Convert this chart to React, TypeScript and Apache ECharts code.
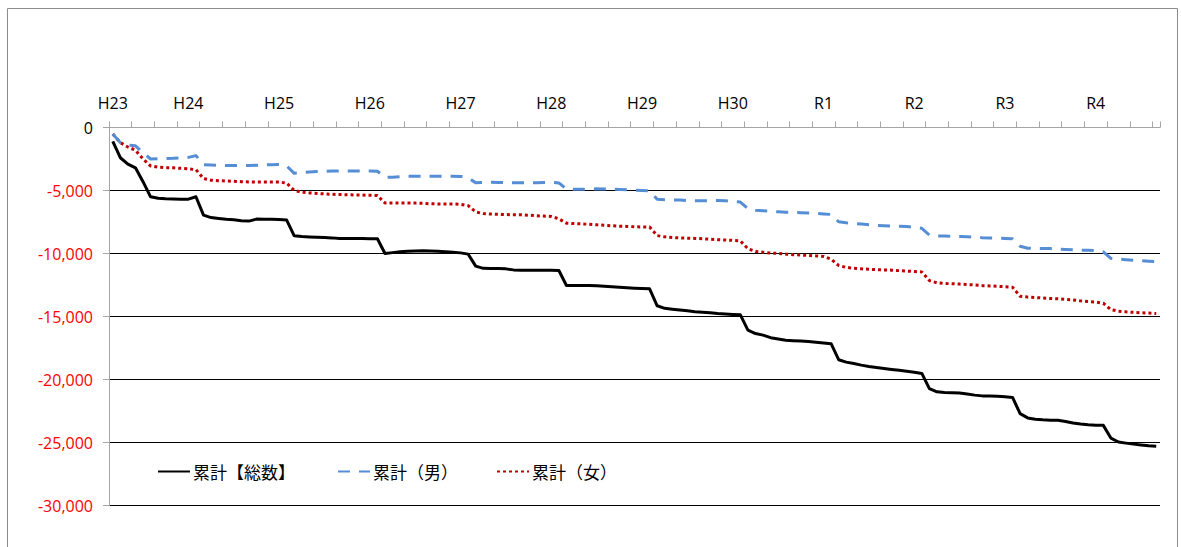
import React, { useEffect, useRef } from "react";
import * as echarts from "echarts";

// Months from 2011/3 to 2022/9 (139 points)
const startYear = 2011;
const startMonth = 3;
const monthCount = 139;
const categories: string[] = [];
for (let i = 0; i < monthCount; i++) {
  const m0 = startMonth - 1 + i;
  categories.push(`${startYear + Math.floor(m0 / 12)}/${(m0 % 12) + 1}`);
}

// Era labels shown at the first month and each January
const labelYears = [2011, 2012, 2013, 2014, 2015, 2016, 2017, 2018, 2019, 2020, 2021, 2022];
const labelTexts = ["H23", "H24", "H25", "H26", "H27", "H28", "H29", "H30", "R1", "R2", "R3", "R4"];

const yTicks = [0, -5000, -10000, -15000, -20000, -25000, -30000];

const totalSeries = [
  -1100, -2400, -2900, -3200, -4300, -5500, -5620, -5660, -5680, -5700, -5690, -5500,
  -6950, -7150, -7220, -7280, -7320, -7400, -7430, -7270, -7280, -7290, -7300, -7350,
  -8600, -8660, -8690, -8720, -8740, -8760, -8800, -8810, -8810, -8810, -8820, -8830,
  -10000, -9930, -9870, -9820, -9800, -9790, -9800, -9830, -9860, -9900, -9950, -10050,
  -11000, -11180, -11200, -11200, -11220, -11300, -11320, -11320, -11320, -11320, -11330, -11350,
  -12540, -12540, -12540, -12540, -12560, -12600, -12640, -12680, -12720, -12750, -12780, -12800,
  -14150, -14350, -14420, -14480, -14550, -14620, -14660, -14700, -14760, -14800, -14840, -14870,
  -16080, -16350, -16480, -16680, -16780, -16880, -16920, -16950, -16980, -17040, -17100, -17160,
  -18430, -18620, -18730, -18860, -18960, -19040, -19120, -19200, -19270, -19350, -19420, -19520,
  -20720, -20980, -21030, -21050, -21080, -21150, -21240, -21300, -21310, -21330, -21370, -21420,
  -22710, -23050, -23150, -23200, -23230, -23240, -23330, -23450, -23530, -23590, -23630, -23640,
  -24650, -24960, -25050, -25130, -25200, -25260, -25290,
];

const maleSeries = [
  -520, -1200, -1400, -1450, -2000, -2500, -2480, -2460, -2450, -2420, -2370, -2230,
  -2950, -2980, -3000, -3020, -3020, -3020, -3020, -3000, -2970, -2950, -2940, -3050,
  -3640, -3580, -3540, -3500, -3470, -3460, -3460, -3460, -3460, -3450, -3450, -3470,
  -3950, -3940, -3900, -3870, -3860, -3860, -3860, -3860, -3860, -3860, -3880, -4000,
  -4380, -4370, -4350, -4360, -4380, -4390, -4390, -4390, -4380, -4360, -4360, -4400,
  -4880, -4900, -4900, -4880, -4870, -4880, -4900, -4920, -4940, -4970, -5000, -5020,
  -5700, -5730, -5750, -5760, -5790, -5820, -5820, -5810, -5800, -5810, -5850, -5920,
  -6440, -6560, -6610, -6650, -6690, -6720, -6750, -6760, -6790, -6820, -6860, -6900,
  -7480, -7560, -7610, -7660, -7720, -7770, -7800, -7820, -7830, -7850, -7930, -8000,
  -8540, -8600, -8620, -8640, -8660, -8670, -8700, -8750, -8760, -8780, -8800, -8830,
  -9420, -9580, -9600, -9600, -9610, -9640, -9680, -9710, -9740, -9750, -9770, -9870,
  -10380, -10450, -10490, -10530, -10570, -10610, -10640,
];

const femaleSeries = [
  -520, -1200, -1550, -1800, -2500, -3050, -3150, -3190, -3200, -3240, -3280, -3350,
  -4050, -4180, -4220, -4250, -4270, -4300, -4320, -4320, -4320, -4320, -4320, -4420,
  -5000, -5130, -5190, -5230, -5270, -5300, -5320, -5340, -5350, -5360, -5380, -5400,
  -5990, -5990, -5990, -5990, -6000, -6020, -6050, -6070, -6070, -6070, -6100, -6200,
  -6700, -6830, -6870, -6890, -6910, -6920, -6930, -6960, -7000, -7030, -7060, -7250,
  -7590, -7620, -7650, -7680, -7720, -7760, -7800, -7830, -7850, -7880, -7890, -7900,
  -8580, -8680, -8730, -8760, -8780, -8800, -8830, -8860, -8900, -8930, -8960, -9000,
  -9620, -9850, -9900, -9960, -10000, -10050, -10090, -10120, -10150, -10190, -10230, -10450,
  -10950, -11100, -11170, -11220, -11250, -11280, -11300, -11320, -11360, -11400, -11430, -11460,
  -12150, -12330, -12380, -12400, -12430, -12460, -12500, -12550, -12570, -12600, -12640, -12680,
  -13400, -13460, -13500, -13530, -13570, -13600, -13640, -13690, -13760, -13810, -13860, -13950,
  -14450, -14580, -14630, -14670, -14700, -14730, -14760,
];

const seriesNames = ["累計【総数】", "累計（男）", "累計（女）"];
const seriesColors = ["#000000", "#558ed5", "#c00000"];

function eraLabel(value: string, index: number): string {
  const [y, m] = value.split("/").map(Number);
  if (index === 0 || m === 1) {
    const k = labelYears.indexOf(y);
    return k >= 0 ? labelTexts[k] : "";
  }
  return "";
}

const legendLefts = [157, 337, 496];

export default function App() {
  const ref = useRef<HTMLDivElement>(null);
  useEffect(() => {
    if (!ref.current) return;
    const chart = echarts.init(ref.current, undefined, { renderer: "svg" });
    chart.setOption({
      animation: false,
      backgroundColor: "#ffffff",
      graphic: [
        {
          type: "rect",
          silent: true,
          shape: { x: 7.5, y: 8.5, width: 1170, height: 600 },
          style: { fill: "none", stroke: "#8c8c8c", lineWidth: 1 },
        },
      ],
      grid: { left: 109, right: 21, top: 127.5, bottom: 41.5, containLabel: false },
      legend: seriesNames.map((name, k) => ({
        left: legendLefts[k],
        top: 463,
        padding: 0,
        itemWidth: 32,
        itemHeight: 14,
        itemGap: 0,
        itemStyle: { opacity: 0 },
        textStyle: { fontFamily: "Noto Sans CJK JP", fontSize: 17, color: "#000", padding: [0, 0, 0, -2] },
        data: [name],
      })),
      xAxis: {
        type: "category",
        position: "top",
        data: categories,
        boundaryGap: true,
        axisLine: { onZero: false, lineStyle: { color: "#a6a6a6", width: 1 } },
        axisTick: {
          show: true,
          length: 6,
          interval: (i: number) => i % 3 === 0,
          lineStyle: { color: "#a6a6a6" },
        },
        axisLabel: {
          interval: 0,
          formatter: (v: string, i: number) => eraLabel(v, i),
          color: "#000",
          fontFamily: "Open Sans",
          fontSize: 16,
          margin: 17,
        },
        splitLine: { show: false },
      },
      yAxis: {
        type: "value",
        min: yTicks[yTicks.length - 1],
        max: yTicks[0],
        interval: 5000,
        axisLine: { show: true, lineStyle: { color: "#a6a6a6" } },
        axisTick: { show: true, length: 6, lineStyle: { color: "#a6a6a6" } },
        axisLabel: {
          fontFamily: "Open Sans",
          fontSize: 16,
          margin: 16,
          formatter: (v: number) => v.toLocaleString("en-US"),
          color: (v: any) => (Number(v) < 0 ? "#ff0000" : "#000000"),
        },
        splitLine: { show: true, showMaxLine: false, lineStyle: { color: "#000", width: 1 } },
      },
      series: [
        {
          name: seriesNames[0],
          type: "line",
          data: totalSeries,
          symbol: "none",
          lineStyle: { color: seriesColors[0], width: 3, join: "round" },
          itemStyle: { color: seriesColors[0] },
          z: 4,
        },
        {
          name: seriesNames[1],
          type: "line",
          data: maleSeries,
          symbol: "none",
          lineStyle: { color: seriesColors[1], width: 3, type: [12, 9], join: "round" },
          itemStyle: { color: seriesColors[1] },
          z: 3,
        },
        {
          name: seriesNames[2],
          type: "line",
          data: femaleSeries,
          symbol: "none",
          lineStyle: { color: seriesColors[2], width: 3, type: [3, 3] },
          itemStyle: { color: seriesColors[2] },
          z: 2,
        },
      ],
    });
    return () => chart.dispose();
  }, []);
  return (
    <div
      ref={ref}
      style={{ position: "fixed", left: 0, top: 0, width: 1181, height: 547, background: "#fff" }}
    />
  );
}
